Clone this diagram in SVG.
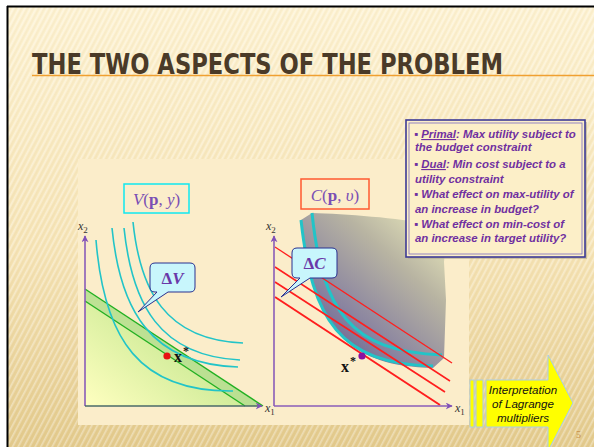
<svg xmlns="http://www.w3.org/2000/svg" width="594" height="447" viewBox="0 0 594 447">
<defs>
<linearGradient id="bg" x1="0" y1="0" x2="0" y2="1">
<stop offset="0" stop-color="#fdf2d2"/>
<stop offset="0.55" stop-color="#f6e4b6"/>
<stop offset="1" stop-color="#e3ca8c"/>
</linearGradient>
<pattern id="stripes" width="5" height="5" patternUnits="userSpaceOnUse" patternTransform="rotate(28)">
<rect x="0" y="0" width="1.6" height="5" fill="#ffffff" fill-opacity="0.35"/>
<rect x="2.6" y="0" width="1" height="5" fill="#c8a860" fill-opacity="0.12"/>
</pattern>
<linearGradient id="greenFill" x1="0" y1="1" x2="1" y2="0.2">
<stop offset="0" stop-color="#ffffc0"/>
<stop offset="0.5" stop-color="#d6ee9e"/>
<stop offset="1" stop-color="#a4d686"/>
</linearGradient>
<linearGradient id="grayFill" x1="1" y1="0" x2="0.15" y2="1">
<stop offset="0" stop-color="#f0f0c0"/>
<stop offset="0.35" stop-color="#b8b4a2"/>
<stop offset="0.7" stop-color="#8a84a0"/>
<stop offset="1" stop-color="#5e5888"/>
</linearGradient>
<marker id="arrP" viewBox="0 0 10 10" refX="9" refY="5" markerWidth="7" markerHeight="7" orient="auto" markerUnits="userSpaceOnUse">
<path d="M0,0 L10,5 L0,10 L3,5 Z" fill="#8050b8"/>
</marker>
<style>
.axis{stroke:#8a5cb8;stroke-width:1.6;fill:none}
.ic{stroke:#22c4c8;stroke-width:1.6;fill:none}
.icT{stroke:#22c4c8;stroke-width:3;fill:none}
.gl{stroke:#22b022;stroke-width:1.4;fill:none}
.rl{stroke:#ff1e1e;fill:none}
.lab{font-family:"Liberation Serif",serif;font-style:italic;font-size:12px;fill:#333333}
.sub{font-size:9px;font-style:normal}
.fn{font-family:"Liberation Serif",serif;font-size:17px;fill:#7a4fb4}
.call{fill:#c8f6fc;stroke:#283090;stroke-width:1}
.dl{font-family:"Liberation Serif",serif;font-size:17px;fill:#6a38a8;font-weight:bold}
.xs{font-family:"Liberation Serif",serif;font-size:16px;font-weight:bold;fill:#111111}
.bt{font-family:"Liberation Sans",Arial,sans-serif;font-size:11.4px;font-weight:bold;font-style:italic;fill:#7030a0}
.ar{font-family:"Liberation Sans",Arial,sans-serif;font-size:11.6px;font-style:italic;fill:#111111}
</style>
</defs>

<!-- background -->
<rect x="0" y="0" width="594" height="447" fill="#ffffff"/>
<rect x="7" y="6" width="587" height="441" fill="url(#bg)"/>
<rect x="7" y="6" width="587" height="441" fill="url(#stripes)"/>
<line x1="7" y1="6.5" x2="594" y2="6.5" stroke="#000000" stroke-width="2"/>
<line x1="7.5" y1="6" x2="7.5" y2="447" stroke="#000000" stroke-width="2"/>

<!-- title -->
<g id="title">
<line x1="32" y1="75.5" x2="594" y2="75.5" stroke="#f0a030" stroke-width="1.3"/>
<text x="32" y="74" font-family="'Liberation Sans Narrow','DejaVu Sans Condensed','Liberation Sans',sans-serif" font-size="28" font-weight="bold" fill="#4a3a28" textLength="471" lengthAdjust="spacingAndGlyphs">THE TWO ASPECTS OF THE PROBLEM</text>
</g>

<!-- panel -->
<rect x="78" y="159" width="391" height="266" fill="#fbedca"/>

<!-- left diagram -->
<g id="left-diagram">
<polygon points="85,289 263,406 85,406" fill="url(#greenFill)"/>
<polygon points="85,289 263,406 245,406 85,301" fill="#acd88c" fill-opacity="0.6"/>
<line class="gl" x1="85" y1="289" x2="263" y2="406"/>
<line class="gl" x1="85" y1="301" x2="245" y2="406"/>
<path class="ic" d="M96,240 C104,340 140,392 233,391"/>
<path class="ic" d="M112,228 C120,310 150,364 238,367"/>
<path class="ic" d="M124,228 C132,305 160,356 240,360"/>
<path class="ic" d="M133,222 C140,290 165,340 243,343"/>
<line class="axis" x1="85" y1="406" x2="85" y2="236" marker-end="url(#arrP)"/>
<line x1="85" y1="406" x2="262" y2="406" stroke="#4a6a68" stroke-width="1.6" marker-end="url(#arrP)"/>
<circle cx="167" cy="356" r="3.6" fill="#e81010"/>
<text class="xs" x="174" y="362">x<tspan font-size="12" dx="1" dy="-7">*</tspan></text>
<text class="lab" x="78" y="230">x<tspan class="sub" dy="3">2</tspan></text>
<text class="lab" x="265" y="412">x<tspan class="sub" dy="3">1</tspan></text>
</g>

<g id="V-label">
<rect x="124" y="184" width="65" height="29" fill="none" stroke="#10e8f0" stroke-width="1.5"/>
<text class="fn" x="156.5" y="205" text-anchor="middle"><tspan font-style="italic">V</tspan>(<tspan font-weight="bold">p</tspan>, <tspan font-style="italic">y</tspan>)</text>
</g>

<g id="deltaV">
<path class="call" d="M155,263 H190 Q195,263 195,268 V287 Q195,292 190,292 H168 L138,312 L157,292 H155 Q150,292 150,287 V268 Q150,263 155,263 Z"/>
<text class="dl" x="172.5" y="284" text-anchor="middle">Δ<tspan font-style="italic">V</tspan></text>
</g>

<!-- right diagram -->
<g id="right-diagram">
<path d="M301,220 L312,213 C345,214 400,218 428,224 C442,232 446,246 444,262 L446,300 L444,358 L433,368 C340,366 312,320 301,220 Z" fill="url(#grayFill)"/>
<path class="icT" d="M301,220 C312,320 340,364 433,366"/>
<path class="icT" d="M312,213 C322,310 350,352 442,355"/>
<line class="rl" stroke-width="1.3" x1="275" y1="247" x2="452" y2="363"/>
<line class="rl" stroke-width="1.5" x1="275" y1="267" x2="450" y2="381"/>
<line class="rl" stroke-width="1.7" x1="275" y1="282" x2="445" y2="392"/>
<line class="rl" stroke-width="2" x1="275" y1="297" x2="440" y2="405"/>
<line class="axis" x1="274" y1="406" x2="274" y2="236" marker-end="url(#arrP)"/>
<line class="axis" x1="274" y1="406" x2="452" y2="406" marker-end="url(#arrP)"/>
<circle cx="362" cy="356" r="3.6" fill="#8a10a0"/>
<text class="xs" x="341" y="372">x<tspan font-size="12" dx="1" dy="-7">*</tspan></text>
<text class="lab" x="266" y="230">x<tspan class="sub" dy="3">2</tspan></text>
<text class="lab" x="455" y="412">x<tspan class="sub" dy="3">1</tspan></text>
</g>

<g id="C-label">
<rect x="301" y="179" width="68" height="30" fill="none" stroke="#ff5a30" stroke-width="1.5"/>
<text class="fn" x="335" y="201" text-anchor="middle"><tspan font-style="italic">C</tspan>(<tspan font-weight="bold">p</tspan>, <tspan font-style="italic">υ</tspan>)</text>
</g>

<g id="deltaC">
<path class="call" d="M297,248 H332 Q337,248 337,253 V273 Q337,278 332,278 H310 L281,297 L300,278 H297 Q292,278 292,273 V253 Q292,248 297,248 Z"/>
<text class="dl" x="314.5" y="269" text-anchor="middle">Δ<tspan font-style="italic">C</tspan></text>
</g>

<!-- text box -->
<g id="notes">
<rect x="408" y="122" width="179" height="137" fill="#b0a890" fill-opacity="0.6"/>
<rect x="406" y="120" width="179" height="137" fill="#fcefc8" stroke="#3c3a96" stroke-width="1.6"/>
<rect x="409" y="123" width="173" height="131" fill="none" stroke="#7a6cc0" stroke-width="0.8"/>
<text class="bt" x="414" y="138">▪ <tspan text-decoration="underline">Primal</tspan>: Max utility subject to</text>
<text class="bt" x="415" y="151">the budget constraint</text>
<text class="bt" x="414" y="168">▪ <tspan text-decoration="underline">Dual</tspan>: Min cost subject to a</text>
<text class="bt" x="415" y="183">utility constraint</text>
<text class="bt" x="414" y="198">▪ What effect on max-utility of</text>
<text class="bt" x="415" y="213">an increase in budget?</text>
<text class="bt" x="414" y="228">▪ What effect on min-cost of</text>
<text class="bt" x="415" y="242">an increase in target utility?</text>
</g>

<!-- arrow -->
<g id="lagrange-arrow">
<rect x="470" y="380" width="4" height="47" fill="#ffff00" stroke="#a8cce8" stroke-width="1"/>
<rect x="476" y="380" width="7" height="47" fill="#ffff00" stroke="#a8cce8" stroke-width="1"/>
<path d="M486,380 L548,380 L548,355 L573,403 L548,451 L548,427 L486,427 Z" fill="#ffff00" stroke="#a8cce8" stroke-width="1"/>
<text class="ar" x="523" y="394" text-anchor="middle">Interpretation</text>
<text class="ar" x="523" y="408" text-anchor="middle">of Lagrange</text>
<text class="ar" x="523" y="422" text-anchor="middle">multipliers</text>
</g>

<text x="576" y="438" font-family="'Liberation Serif',serif" font-size="10" fill="#c8904a">5</text>
</svg>
